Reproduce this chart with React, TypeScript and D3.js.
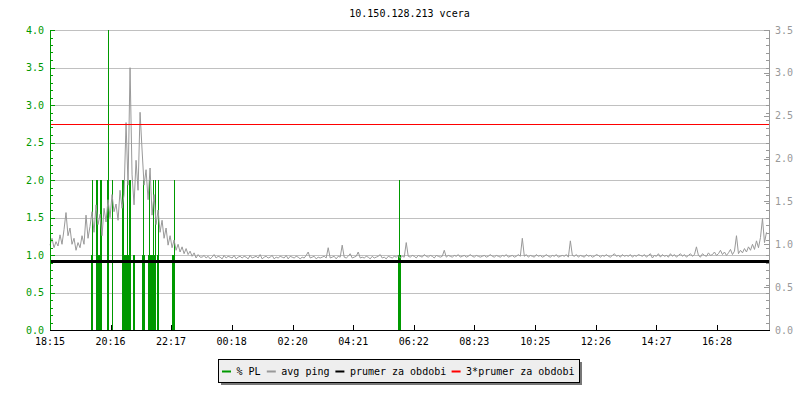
import React, { useEffect, useRef } from "react";
import * as d3 from "d3";

// chart data
const title = "10.150.128.213 vcera";
const spanMinutes = 1437;
const xTickMinutes = [0, 121, 242, 363, 485, 606, 727, 848, 970, 1091, 1212, 1333];
const xTickLabels = ["18:15", "20:16", "22:17", "00:18", "02:20", "04:21", "06:22", "08:23", "10:25", "12:26", "14:27", "16:28"];

// avg ping, one sample every 4 minutes (right axis)
const pingStep = 4;
const avgPing = [
    0.99, 1.07, 0.96, 1.03, 0.98, 1.11, 1.00, 1.17, 1.37, 1.10, 1.19, 1.00, 1.07, 0.93, 1.02, 0.96, 1.10, 1.00, 1.34, 1.07,
    1.21, 1.38, 1.14, 1.46, 1.23, 1.35, 1.10, 1.42, 1.26, 1.52, 1.31, 1.58, 1.38, 1.47, 1.28, 1.63, 1.42, 1.58, 2.42, 1.69,
    3.06, 1.81, 1.46, 1.98, 1.63, 2.54, 2.10, 1.69, 1.87, 1.52, 1.89, 1.34, 1.58, 1.23, 1.40, 1.14, 1.28, 1.07, 1.19, 0.99,
    1.10, 0.96, 1.05, 0.93, 1.00, 0.91, 0.97, 0.89, 0.95, 0.88, 0.92, 0.86, 0.90, 0.84, 0.88, 0.85,
    0.85, 0.87, 0.84, 0.86, 0.83, 0.85, 0.88, 0.84, 0.86, 0.85, 0.83, 0.87, 0.84, 0.86, 0.85, 0.84, 0.87, 0.83, 0.85, 0.86,
    0.84, 0.86, 0.85, 0.83, 0.87, 0.84, 0.85, 0.86, 0.84, 0.88, 0.83, 0.85, 0.86, 0.84, 0.85, 0.87, 0.83, 0.85, 0.84, 0.86,
    0.85, 0.84, 0.87, 0.83, 0.86, 0.85, 0.84, 0.86, 0.85, 0.83, 0.85, 0.84, 0.87, 0.91, 0.84, 0.85, 0.86, 0.83, 0.85, 0.84,
    0.85, 0.86, 0.84, 0.96, 0.84, 0.85, 0.86, 0.83, 0.86, 0.85, 0.99, 0.85, 0.84, 0.86, 0.89, 0.84, 0.85, 0.86, 0.91, 0.84,
    0.85, 0.84, 0.86, 0.85, 0.83, 0.86, 0.84, 0.85, 0.86, 0.88, 0.84, 0.85, 0.83, 0.86, 0.85, 0.84, 0.86, 0.85, 0.87, 0.84,
    0.86, 0.85, 1.02, 0.86, 0.85, 0.87, 0.86, 0.84, 0.87, 0.86, 0.85, 0.88, 0.86, 0.85, 0.87, 0.86, 0.84, 0.87, 0.86, 0.85,
    0.86, 0.93, 0.85, 0.87, 0.86, 0.85, 0.87, 0.86, 0.88, 0.85, 0.86, 0.87, 0.85, 0.86, 0.88, 0.86, 0.85, 0.87, 0.86, 0.85,
    0.86, 0.87, 0.85, 0.86, 0.88, 0.86, 0.85, 0.87, 0.86, 0.85, 0.87, 0.86, 0.88, 0.85, 0.86, 0.87, 0.85, 0.86, 0.88, 0.86,
    1.07, 0.86, 0.88, 0.85, 0.87, 0.86, 0.85, 0.88, 0.86, 0.87, 0.85, 0.86, 0.88, 0.86, 0.85, 0.87, 0.86, 0.88, 0.85, 0.86,
    0.87, 0.86, 0.88, 0.85, 1.04, 0.87, 0.86, 0.88, 0.85, 0.87, 0.86, 0.85, 0.88, 0.86, 0.87, 0.85, 0.86, 0.88, 0.87, 0.85,
    0.87, 0.86, 0.88, 0.86, 0.85, 0.87, 0.89, 0.86, 0.87, 0.85, 0.88, 0.86, 0.87, 0.86, 0.88, 0.85, 0.87, 0.86, 0.88, 0.87,
    0.86, 0.88, 0.85, 0.87, 0.89, 0.84, 0.87, 0.86, 0.89, 0.85, 0.88, 0.86, 0.87, 0.85, 0.89, 0.86, 0.88, 0.85, 0.87, 0.89,
    0.86, 0.88, 0.85, 0.87, 0.89, 0.86, 0.88, 0.97, 0.87, 0.85, 0.89, 0.87, 0.86, 0.90, 0.87, 0.88, 0.91, 0.87, 0.89, 0.93,
    0.88, 0.91, 0.87, 0.90, 0.94, 0.88, 0.92, 1.10, 0.89, 0.93, 0.90, 0.95, 0.91, 0.97, 0.93, 1.00, 0.94, 1.04, 0.96, 1.08,
    1.30, 1.02, 1.14
];

// % PL: [from minute, to minute, value] (left axis)
const plBars: [number, number, number][] = [
    [81, 85, 1], [91, 103, 1], [114, 117, 1], [123, 125, 1], [144, 162, 1], [166, 169, 1],
    [183, 189, 1], [195, 209, 1], [213, 217, 1], [243, 247, 1], [695, 700, 1],
    [84, 84, 2], [91, 91, 2], [93, 93, 2], [100, 100, 2], [102, 102, 2], [114, 114, 2], [124, 124, 2],
    [144, 144, 2], [146, 146, 2], [153, 153, 2], [157, 157, 2], [160, 160, 2], [185, 185, 2], [186, 186, 2],
    [197, 197, 2], [206, 206, 2], [210, 210, 2], [215, 215, 2], [247, 247, 2], [698, 698, 2],
    [116, 116, 4]
];

const prumer = 0.8;
const prumer3 = 2.4;

const legendLabels = ["% PL", "avg ping", "prumer za obdobi", "3*prumer za obdobi"];
const legendColors = ["#009900", "#999999", "#000000", "#ff0000"];

var margin = { top: 30, right: 31, bottom: 70, left: 50 },
    width = 800 - margin.left - margin.right,
    height = 400 - margin.top - margin.bottom;
var font = "'DejaVu Sans Mono', monospace";

function App() {
    const ref = useRef<SVGSVGElement>(null);

    useEffect(() => {
        chart();
    }, []);

    function chart() {
        var root = d3.select(ref.current);
        root.selectAll("*").remove();

        var x = d3.scaleLinear().domain([0, spanMinutes]).range([0, width]);
        var yL = d3.scaleLinear().domain([0, 4]).range([height, 0]);
        var yR = d3.scaleLinear().domain([0, 3.5]).range([height, 0]);

        root.append("text")
            .attr("x", margin.left + width / 2)
            .attr("y", 17)
            .attr("text-anchor", "middle")
            .style("font-family", font)
            .style("font-size", "10px")
            .text(title);

        var svg = root.append("g")
            .attr("transform", "translate(" + margin.left + "," + margin.top + ")");

        // grid
        svg.append("g")
            .selectAll("line")
            .data(d3.range(1, 9).map(d => d / 2))
            .enter().append("line")
            .attr("x1", 0).attr("x2", width)
            .attr("y1", d => Math.round(yL(d)) + 0.5)
            .attr("y2", d => Math.round(yL(d)) + 0.5)
            .attr("stroke", "#c0c0c0");

        // % PL
        svg.append("g")
            .selectAll("rect")
            .data(plBars)
            .enter().append("rect")
            .attr("x", d => Math.round(x(d[0])))
            .attr("width", d => Math.max(1, Math.round(x(d[1]) - x(d[0]))))
            .attr("y", d => yL(d[2]))
            .attr("height", d => height - yL(d[2]))
            .attr("fill", "#009900")
            .attr("shape-rendering", "crispEdges");

        // avg ping
        svg.append("path")
            .datum(avgPing)
            .attr("fill", "none")
            .attr("stroke", "#999999")
            .attr("stroke-width", 1)
            .attr("d", d3.line<number>()
                .x((d, i) => x(i * pingStep))
                .y(d => yR(d)));

        svg.append("line")
            .attr("x1", 0).attr("x2", width)
            .attr("y1", yR(prumer)).attr("y2", yR(prumer))
            .attr("stroke", "#000").attr("stroke-width", 3);
        svg.append("line")
            .attr("x1", 0).attr("x2", width)
            .attr("y1", Math.round(yR(prumer3)) + 0.5).attr("y2", Math.round(yR(prumer3)) + 0.5)
            .attr("stroke", "#ff0000").attr("stroke-width", 1);

        // left axis
        var left = svg.append("g").attr("shape-rendering", "crispEdges");
        left.append("line").attr("x1", 0.5).attr("x2", 0.5).attr("y1", 0).attr("y2", height)
            .attr("stroke", "#009900");
        left.selectAll(".mt").data(d3.range(0, 41)).enter().append("line")
            .attr("x1", 0).attr("x2", d => d % 5 === 0 ? 5 : 3)
            .attr("y1", d => Math.round(yL(d / 10)) + 0.5).attr("y2", d => Math.round(yL(d / 10)) + 0.5)
            .attr("stroke", "#009900");
        left.selectAll("text").data(d3.range(0, 9).map(d => d / 2)).enter().append("text")
            .attr("x", -6).attr("y", d => yL(d)).attr("dy", "0.35em")
            .attr("text-anchor", "end")
            .attr("fill", "#009900")
            .style("font-family", font).style("font-size", "10px")
            .text(d => d3.format(".1f")(d));

        // right axis
        var right = svg.append("g").attr("transform", `translate(${width},0)`).attr("shape-rendering", "crispEdges");
        right.append("line").attr("x1", 0.5).attr("x2", 0.5).attr("y1", 0).attr("y2", height)
            .attr("stroke", "#999999");
        right.selectAll(".mt").data(d3.range(0, 41)).enter().append("line")
            .attr("x1", 0).attr("x2", -3)
            .attr("y1", d => Math.round(yR(d * 3.5 / 40)) + 0.5).attr("y2", d => Math.round(yR(d * 3.5 / 40)) + 0.5)
            .attr("stroke", "#999999");
        right.selectAll(".Mt").data(d3.range(0, 8).map(d => d / 2)).enter().append("line")
            .attr("x1", 0).attr("x2", -5)
            .attr("y1", d => Math.round(yR(d)) + 0.5).attr("y2", d => Math.round(yR(d)) + 0.5)
            .attr("stroke", "#999999");
        right.selectAll("text").data(d3.range(0, 8).map(d => d / 2)).enter().append("text")
            .attr("x", 6).attr("y", d => yR(d)).attr("dy", "0.35em")
            .attr("fill", "#999999")
            .style("font-family", font).style("font-size", "10px")
            .text(d => d3.format(".1f")(d));

        // bottom axis
        var bottom = svg.append("g").attr("transform", `translate(0,${height})`).attr("shape-rendering", "crispEdges");
        bottom.append("line").attr("x1", 0).attr("x2", width + 1).attr("y1", 0.5).attr("y2", 0.5)
            .attr("stroke", "#000");
        bottom.selectAll("line.t").data(xTickMinutes.slice(1)).enter().append("line")
            .attr("x1", d => Math.round(x(d)) + 0.5).attr("x2", d => Math.round(x(d)) + 0.5)
            .attr("y1", 0).attr("y2", -5)
            .attr("stroke", "#000");
        bottom.selectAll("text").data(xTickMinutes).enter().append("text")
            .attr("x", d => x(d)).attr("y", 15)
            .attr("text-anchor", "middle")
            .style("font-family", font).style("font-size", "10px")
            .text((d, i) => xTickLabels[i]);

        // legend
        var charW = 5.95;
        var lx = 218, ly = 359, lw = 361, lh = 23;
        root.append("rect").attr("x", lx + 3).attr("y", ly + 3).attr("width", lw).attr("height", lh)
            .attr("fill", "#777").attr("shape-rendering", "crispEdges");
        root.append("rect").attr("x", lx + 0.5).attr("y", ly + 0.5).attr("width", lw).attr("height", lh)
            .attr("fill", "#eeeeee").attr("stroke", "#000").attr("shape-rendering", "crispEdges");
        var cx = lx + 4;
        legendLabels.forEach((label, i) => {
            root.append("line")
                .attr("x1", cx).attr("x2", cx + 9)
                .attr("y1", ly + 12.5).attr("y2", ly + 12.5)
                .attr("stroke", legendColors[i]).attr("stroke-width", 2);
            root.append("text")
                .attr("x", cx + 14.5).attr("y", ly + 12).attr("dy", "0.35em")
                .style("font-family", font).style("font-size", "10px")
                .text(label);
            cx += 14.5 + label.length * charW + 6.5;
        });
    }

    return (
        <svg ref={ref} width={800} height={400} style={{ position: "absolute", left: 0, top: 0, background: "#fff" }}></svg>
    );
}

export default App;
